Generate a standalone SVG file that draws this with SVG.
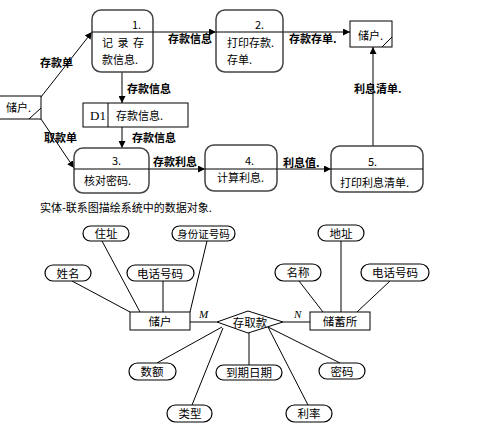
<svg xmlns="http://www.w3.org/2000/svg" width="487" height="424" viewBox="0 0 487 424">
<defs>
<marker id="ah" viewBox="0 0 10 10" refX="10" refY="5" markerWidth="7" markerHeight="7" orient="auto" markerUnits="userSpaceOnUse">
<path d="M0,0 L10,5 L0,10 z" fill="#000"/>
</marker>
</defs>
<style>
text{font-family:"Noto Sans CJK SC","Liberation Sans",sans-serif;font-size:11px;fill:#000}
.b{font-weight:bold}
.proc{fill:#fff;stroke:#444;stroke-width:1.5}
.box{fill:#fff;stroke:#000;stroke-width:1}
.ln{stroke:#000;stroke-width:1;fill:none}
.arr{stroke:#000;stroke-width:1;fill:none;marker-end:url(#ah)}
.att{fill:#fff;stroke:#000;stroke-width:1.2}
.er{font-size:11.5px}
.mn{font-family:"Liberation Serif",serif;font-style:italic;font-size:11px}
.c{text-anchor:middle}
</style>
<rect width="487" height="424" fill="#fff"/>

<g id="connectors">
<line class="arr" x1="41" y1="97" x2="92" y2="32"/>
<line class="arr" x1="41" y1="119" x2="74" y2="168"/>
<line class="arr" x1="153" y1="32" x2="216" y2="32"/>
<line class="arr" x1="283" y1="32" x2="350" y2="32"/>
<line class="arr" x1="122" y1="72" x2="122" y2="103"/>
<line class="arr" x1="122" y1="127" x2="122" y2="148"/>
<line class="arr" x1="149" y1="169" x2="205" y2="169"/>
<line class="arr" x1="277" y1="169" x2="331" y2="169"/>
<line class="arr" x1="373" y1="146" x2="373" y2="47"/>
<text class="b" x="40" y="67">存款单</text>
<text class="b" x="44" y="142">取款单</text>
<text class="b" x="168" y="43">存款信息</text>
<text class="b" x="289" y="43">存款存单.</text>
<text class="b" x="127" y="93">存款信息</text>
<text class="b" x="132" y="142">存款信息</text>
<text class="b" x="153" y="166">存款利息</text>
<text class="b" x="283" y="167">利息值.</text>
<text class="b" x="354" y="93">利息清单.</text>
<line class="ln" x1="190" y1="322" x2="217" y2="322"/>
<line class="ln" x1="283" y1="322" x2="310" y2="322"/>
<line class="ln" x1="72" y1="281" x2="130" y2="312"/>
<line class="ln" x1="102" y1="241" x2="140" y2="312"/>
<line class="ln" x1="163" y1="281" x2="163" y2="312"/>
<line class="ln" x1="207" y1="241" x2="190" y2="312"/>
<line class="ln" x1="222" y1="327" x2="157" y2="363"/>
<line class="ln" x1="223" y1="328" x2="192" y2="405"/>
<line class="ln" x1="249" y1="333" x2="249" y2="365"/>
<line class="ln" x1="268" y1="327" x2="340" y2="363"/>
<line class="ln" x1="268" y1="327" x2="308" y2="405"/>
<line class="ln" x1="299" y1="281" x2="323" y2="312"/>
<line class="ln" x1="341" y1="241" x2="341" y2="312"/>
<line class="ln" x1="390" y1="281" x2="357" y2="312"/>
<text class="mn" x="199" y="318">M</text>
<text class="mn" x="294" y="318">N</text>
</g>

<g id="user-left">
<rect class="box" x="-1" y="96" width="42" height="23"/>
<line class="ln" x1="29" y1="119" x2="41" y2="108"/>
<text x="6" y="112">储户.</text>
</g>

<g id="p1">
<rect class="proc" x="92" y="10" width="61" height="62" rx="9"/>
<line class="ln" x1="92" y1="32" x2="153" y2="32"/>
<text x="132" y="29">1.</text>
<text x="102" y="47" style="word-spacing:2px">记 录 存</text>
<text x="102" y="64">款信息.</text>
</g>

<g id="p2">
<rect class="proc" x="216" y="10" width="67" height="62" rx="9"/>
<line class="ln" x1="216" y1="32" x2="283" y2="32"/>
<text x="255" y="29">2.</text>
<text x="227" y="47">打印存款.</text>
<text x="227" y="64">存单.</text>
</g>

<g id="user-right">
<rect class="box" x="350" y="21" width="42" height="26"/>
<line class="ln" x1="382" y1="47" x2="392" y2="37"/>
<text x="358" y="40">储户.</text>
</g>

<g id="d1">
<rect class="box" x="83" y="103" width="105" height="24"/>
<line class="ln" x1="108" y1="103" x2="108" y2="127"/>
<text x="90" y="120" style="font-family:'Liberation Serif',serif;font-size:13px">D1</text>
<text x="116" y="120">存款信息.</text>
</g>

<g id="p3">
<rect class="proc" x="74" y="148" width="75" height="45" rx="9"/>
<line class="ln" x1="74" y1="169" x2="149" y2="169"/>
<text x="112" y="165">3.</text>
<text x="84" y="185">核对密码.</text>
</g>

<g id="p4">
<rect class="proc" x="205" y="145" width="72" height="46" rx="9"/>
<line class="ln" x1="205" y1="169" x2="277" y2="169"/>
<text x="245" y="165">4.</text>
<text x="217" y="182">计算利息.</text>
</g>

<g id="p5">
<rect class="proc" x="331" y="146" width="92" height="46" rx="9"/>
<line class="ln" x1="331" y1="169" x2="423" y2="169"/>
<text x="368" y="166">5.</text>
<text x="340" y="187">打印利息清单.</text>
</g>

<g id="caption">
<text x="40" y="212">实体-联系图描绘系统中的数据对象.</text>
</g>

<g id="e-chuhu">
<rect class="box" x="130" y="312" width="60" height="18"/>
<text class="er c" x="160" y="326">储户</text>
</g>
<g id="r-cunqukuan">
<polygon class="box" points="217,322 248,311 283,322 248,333"/>
<text class="er c" x="250" y="327">存取款</text>
</g>
<g id="e-chuxusuo">
<rect class="box" x="310" y="312" width="60" height="18"/>
<text class="er c" x="340" y="326">储蓄所</text>
</g>

<g id="a-zhuzhi"><rect class="att" x="83" y="226" width="46" height="15" rx="7.5"/><text class="er c" x="106" y="238">住址</text></g>
<g id="a-sfz"><rect class="att" x="172" y="226" width="63" height="15" rx="7.5"/><text class="c" x="203.5" y="238" style="font-size:10.5px">身份证号码</text></g>
<g id="a-xingming"><rect class="att" x="45" y="265" width="46" height="16" rx="8"/><text class="er c" x="68" y="278">姓名</text></g>
<g id="a-dh1"><rect class="att" x="127" y="265" width="67" height="16" rx="8"/><text class="er c" x="160" y="278">电话号码</text></g>
<g id="a-shue"><rect class="att" x="129" y="363" width="47" height="17" rx="8.5"/><text class="er c" x="152" y="376">数额</text></g>
<g id="a-leixing"><rect class="att" x="167" y="405" width="45" height="17" rx="8.5"/><text class="er c" x="190" y="418">类型</text></g>
<g id="a-daoqi"><rect class="att" x="216" y="365" width="66" height="15" rx="7.5"/><text class="er c" x="249" y="377">到期日期</text></g>
<g id="a-mima"><rect class="att" x="319" y="363" width="46" height="16" rx="8"/><text class="er c" x="342" y="376">密码</text></g>
<g id="a-lilv"><rect class="att" x="286" y="405" width="46" height="17" rx="8.5"/><text class="er c" x="309" y="418">利率</text></g>
<g id="a-dizhi"><rect class="att" x="318" y="225" width="46" height="16" rx="8"/><text class="er c" x="341" y="238">地址</text></g>
<g id="a-mingcheng"><rect class="att" x="275" y="264" width="46" height="17" rx="8.5"/><text class="er c" x="298" y="277">名称</text></g>
<g id="a-dh2"><rect class="att" x="361" y="264" width="68" height="17" rx="8.5"/><text class="er c" x="395" y="277">电话号码</text></g>
</svg>
